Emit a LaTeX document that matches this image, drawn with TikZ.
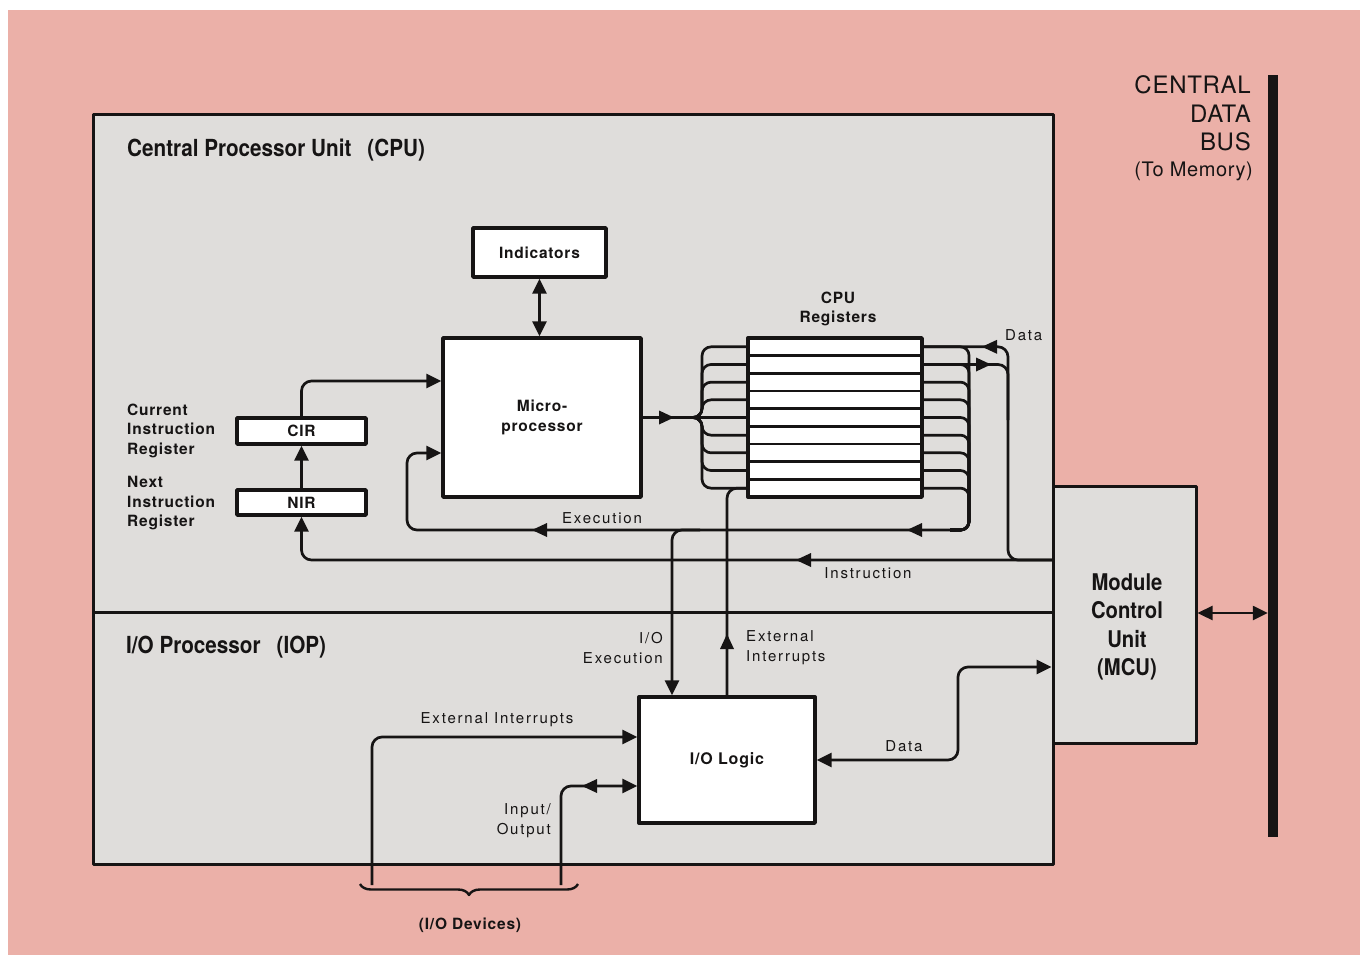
\documentclass[tikz,border=0pt]{standalone}
\usepackage{fontspec}
\setmainfont{TeX Gyre Heros}
\newfontfamily\lab[LetterSpace=12]{TeX Gyre Heros}
\newfontfamily\blab[LetterSpace=5]{TeX Gyre Heros}
\newfontfamily\cond[FakeStretch=0.88]{TeX Gyre Heros}
\newfontfamily\bussans[LetterSpace=3]{TeX Gyre Heros}
\usetikzlibrary{arrows.meta,decorations.pathreplacing}
\definecolor{pinkbg}{RGB}{235,176,168}
\definecolor{panelgrey}{RGB}{223,221,219}
\definecolor{ink}{RGB}{22,20,20}
\tikzset{
  box/.style={draw=ink, line width=3.4pt, fill=white, inner sep=0pt, text=ink},
  pan/.style={draw=ink, line width=3pt, fill=panelgrey, inner sep=0pt},
  conn/.style={draw=ink, line width=2.7pt, rounded corners=10pt},
  tipend/.style={-{Triangle[length=15pt,width=14pt]}},
  tipboth/.style={{Triangle[length=15pt,width=14pt]}-{Triangle[length=15pt,width=14pt]}},
  lbl/.style={inner sep=0pt, text=ink, font=\lab\fontsize{15}{20}\selectfont},
  blbl/.style={inner sep=0pt, text=ink, font=\blab\bfseries\fontsize{15.5}{19.5}\selectfont},
  ttl/.style={inner sep=0pt, text=ink, font=\cond\bfseries\fontsize{23.5}{28}\selectfont},
  buslbl/.style={inner sep=0pt, text=ink, font=\bussans\fontsize{24}{28}\selectfont},
  tipR/.pic={\fill[ink] (0,0) -- (-15,-7) -- (-15,7) -- cycle;},
  tipL/.pic={\fill[ink] (0,0) -- (15,-7) -- (15,7) -- cycle;},
  tipU/.pic={\fill[ink] (0,0) -- (-7,15) -- (7,15) -- cycle;},
  tipD/.pic={\fill[ink] (0,0) -- (-7,-15) -- (7,-15) -- cycle;},
}
\begin{document}
\begin{tikzpicture}[x=1pt,y=-1pt,line join=round]
\useasboundingbox (0,0) rectangle (1365,955);
\fill[white] (0,0) rectangle (1365,955);
\fill[pinkbg] (8,10) rectangle (1360,955);

% panels
\node[pan, minimum width=960pt, minimum height=497pt] (cpu) at (573,363.5) {};
\node[pan, minimum width=960pt, minimum height=252pt] (iop) at (573,738) {};
\node[pan, minimum width=143pt, minimum height=257pt] (mcu) at (1124.5,614.5) {};
\node[ttl, anchor=west] (cputitle) at (127,150) {Central Processor Unit\hspace{16pt}(CPU)};
\node[ttl, anchor=west] (ioptitle) at (126,647) {I/O Processor\hspace{16pt}(IOP)};
\node[inner sep=0pt, text=ink, align=center, font=\cond\bfseries\fontsize{23}{28.5}\selectfont] (mcutext) at (1127,627) {Module\\Control\\Unit\\(MCU)};

% central data bus
\node[fill=ink, minimum width=10pt, minimum height=762pt, inner sep=0pt] (bus) at (1273,456) {};
\node[buslbl, anchor=east] (bl1) at (1251,85) {CENTRAL};
\node[buslbl, anchor=east] (bl2) at (1251,114) {DATA};
\node[buslbl, anchor=east] (bl3) at (1251,142) {BUS};
\node[inner sep=0pt, text=ink, anchor=east, font=\bussans\fontsize{20}{24}\selectfont] (bl4) at (1253,171) {(To Memory)};

% boxes
\node[box, minimum width=133pt, minimum height=49pt, font=\blab\bfseries\fontsize{15.5}{19}\selectfont] (ind) at (539.5,252.5) {Indicators};
\node[box, minimum width=198pt, minimum height=159pt, align=center, font=\blab\bfseries\fontsize{15.5}{20}\selectfont] (mp) at (542,417.5) {Micro-\\processor};
\node[box, minimum width=174pt, minimum height=159pt] (reg) at (835,417.5) {};
\node[box, minimum width=129pt, minimum height=26pt, font=\blab\bfseries\fontsize{15.5}{19}\selectfont] (cir) at (301.5,431) {CIR};
\node[box, minimum width=129pt, minimum height=25pt, font=\blab\bfseries\fontsize{15.5}{19}\selectfont] (nir) at (301.5,502.5) {NIR};
\node[box, minimum width=176pt, minimum height=126pt, font=\blab\bfseries\fontsize{16}{19}\selectfont] (iol) at (727,760) {I/O Logic};

% register rows
\foreach \k in {1,...,8}{
  \pgfmathsetmacro{\yy}{338+\k*159/9}
  \draw[ink, line width=2.4pt] (748,\yy) -- (922,\yy);
}

% labels
\node[blbl, align=center] (reglbl) at (838,309) {CPU\\Registers};
\node[blbl, align=left, anchor=west] (cirlbl) at (127,430.5) {Current\\Instruction\\Register};
\node[blbl, align=left, anchor=west] (nirlbl) at (127,503.5) {Next\\Instruction\\Register};
\node[lbl, anchor=west] (datalbl) at (1005,335) {Data};
\node[lbl] (execlbl) at (602,518) {Execution};
\node[lbl] (instrlbl) at (868,573) {Instruction};
\node[lbl, align=right, anchor=east] (ioexlbl) at (663,648) {I/O\\Execution};
\node[lbl, align=left, anchor=west] (extlbl) at (746,648) {External\\Interrupts};
\node[lbl] (ext2lbl) at (497,720) {External Interrupts};
\node[lbl] (data2lbl) at (904,746) {Data};
\node[lbl, align=right, anchor=east] (iolbl) at (551,821) {Input/\\Output};
\node[blbl] (devlbl) at (470,925) {(I/O Devices)};

% coordinates
\coordinate (fan) at (678,417.5);
\coordinate (c1) at (301,381);
\coordinate (e1) at (407,453);
\coordinate (ins) at (1053,560);
\coordinate (exr) at (955,530);
\coordinate (iox) at (700,530);
\coordinate (ext1) at (372,885);
\coordinate (io1) at (561,885);

% microprocessor -> registers fan
\draw[conn] (mp.east) -- (fan);
\pic at (674,417.5) {tipR};
\foreach \i in {1,2,3,4,6,7,8,9}{
  \pgfmathsetmacro{\yy}{338+(\i-0.5)*159/9}
  \draw[conn, rounded corners=9pt] (fan) -- (702,417.5) -- (702,\yy) -- (748,\yy);
}
\draw[conn] (fan) -- (748,417.5);

% registers -> execution
\foreach \i in {1,...,9}{
  \pgfmathsetmacro{\yy}{338+(\i-0.5)*159/9}
  \draw[conn, rounded corners=8.5pt] (922,\yy) -- (969,\yy) -- (969,530) -- (950,530);
}
\draw[conn, tipend] (exr) -- (e1 |- exr) -- (e1) -- (e1 -| mp.west);
\pic at (907,530) {tipL};
\pic at (532,530) {tipL};

% data to/from MCU
\draw[conn] (922,346.8) -- (1008,346.8) -- (1008,560) -- (ins);
\draw[conn] (922,364.5) -- (1008,364.5) -- (1008,420);
\pic at (982,346.8) {tipL};
\pic at (991,364.5) {tipR};

% instruction
\draw[conn, tipend] (ins) -- (ins -| nir.south) -- (nir.south);
\pic at (796,560) {tipL};
\draw[conn, tipend] (nir.north) -- (cir.south);
\draw[conn, tipend] (cir.north) -- (cir.north |- c1) -- (c1 -| mp.west);

% indicators
\draw[conn, tipboth] (ind.south) -- (ind.south |- mp.north);

% I/O execution & external interrupts
\draw[conn, tipend] (iox) -- (672,530) -- (iol.north -| 672,0);
\draw[conn] (iol.north -| 727,0) -- (727,488.2) -- (748,488.2);
\pic at (727,634) {tipU};

% I/O logic left side
\draw[conn, tipend] (ext1) -- (372,737) -- (iol.west |- 0,737);
\draw[conn, tipend] (io1) -- (561,786) -- (iol.west |- 0,786);
\pic at (582,786) {tipL};
\draw[ink, line width=2.4pt, decorate, decoration={brace, mirror, amplitude=11pt}] (360,884) -- (578,884);

% data to MCU
\draw[conn, tipboth] (iol.east |- 0,760) -- (958,760) -- (958,667) -- (mcu.west |- 0,667);

% MCU <-> bus
\draw[draw=ink, line width=2.4pt, tipboth] (mcu.east |- 0,613) -- (bus.west |- 0,613);
\end{tikzpicture}
\end{document}
